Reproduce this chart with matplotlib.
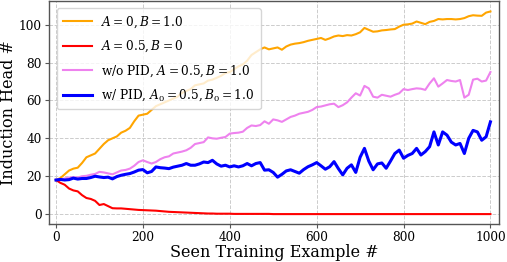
import numpy as np
import matplotlib
matplotlib.use("Agg")
import matplotlib.pyplot as plt

plt.rcParams['font.family'] = ['DejaVu Serif']
plt.rcParams['mathtext.fontset'] = 'dejavuserif'

steps = list(range(0, 1001, 10))

orange_vals = [
    18, 19, 21, 23, 24, 24.5, 27, 30, 31, 32,
    34.5, 37, 39, 40, 41, 43, 44, 45.5, 49, 52,
    52.5, 53, 55, 57, 58, 59, 60, 61, 62, 64,
    65, 66, 68, 68.5, 69, 70.5, 71, 72, 73, 74.5,
    75, 76.5, 78, 79, 81, 84, 85.5, 87, 88, 87,
    87.5, 88, 86.8, 88.5, 89.5, 90, 90.3, 90.8, 91.5, 92,
    92.5, 93, 92, 92.8, 93.8, 94.3, 94, 94.5, 94.3, 95,
    96, 98.3, 97.3, 96.3, 96.5, 97, 97.2, 97.5, 97.7, 99,
    100, 100.2, 100.6, 101.7, 101, 100.3, 101.5, 102, 103, 102.8,
    103, 103, 102.8, 103, 103.5, 104.5, 105, 104.8, 104.7, 106.4,
    107,
]

red_vals = [
    18, 16.5, 15.5, 13.5, 12.5, 12, 10, 8.5, 8, 7,
    4.8, 5.3, 4.2, 3.1, 3, 3, 2.8, 2.6, 2.4, 2.2,
    2.1, 2, 1.9, 1.8, 1.6, 1.4, 1.2, 1.1, 1, 0.9,
    0.8, 0.7, 0.6, 0.5, 0.4, 0.3, 0.3, 0.2, 0.2, 0.2,
    0.2, 0.1, 0.1, 0.1, 0.1, 0.1, 0.1, 0.1, 0.1, 0.1,
    0, 0, 0, 0, 0, 0, 0, 0, 0, 0,
    0, 0, 0, 0, 0, 0, 0, 0, 0, 0,
    0, 0, 0, 0, 0, 0, 0, 0, 0, 0,
    0, 0, 0, 0, 0, 0, 0, 0, 0, 0,
    0, 0, 0, 0, 0, 0, 0, 0, 0, 0,
    0,
]

pink_vals = [
    18, 18.3, 18.8, 19.3, 19.5, 19.3, 20, 20.2, 20.8, 21.2,
    22.3, 22, 21.5, 21, 22, 23, 23.3, 24, 25.5, 27.5,
    28.4, 27.5, 26.7, 27.5, 29, 30, 30.5, 32, 32.5, 33,
    33.7, 35, 37, 37.5, 38, 40.5, 40, 39.8, 40.3, 40.7,
    42.5, 42.8, 43, 43.5, 45.5, 46.8, 46.5, 47, 49, 47.7,
    50, 49.5, 48.7, 50, 51.3, 52, 53, 53.5, 54, 55,
    56.5, 56.8, 57.4, 58, 58.3, 56.5, 57.5, 59, 61.5, 63.8,
    62.6, 67.7, 66.4, 62, 61.5, 63, 62.5, 62, 63, 63.8,
    66, 65.5, 66, 66.4, 66.2, 65.6, 69, 71.7, 67.3, 69,
    70.8, 70.3, 70, 70.8, 61.5, 63, 71, 71.5, 70, 70.5,
    75,
]

blue_vals = [
    18, 18.3, 18, 18.2, 19, 18.5, 18.8, 18.8, 19.3, 20,
    19.6, 19.3, 19.5, 18.6, 19.8, 20.5, 21, 21.4, 22.2, 23.2,
    23.5, 21.8, 22.5, 24.9, 24.5, 24.3, 24, 24.8, 25.3, 25.8,
    26.7, 25.8, 25.8, 26.5, 27.5, 27.2, 28.4, 26.5, 25.3, 25.8,
    24.9, 25.5, 24.9, 25.5, 26.7, 25.5, 26.7, 27.2, 23.2, 23.4,
    22, 19.5, 21, 22.8, 23.4, 22.5, 21.6, 23.5, 25, 26,
    27.2, 25.5, 23.7, 25, 27.7, 24, 20.7, 24.2, 26, 22,
    30, 34.7, 28, 23.4, 26.5, 27, 24.2, 28, 32, 33.8,
    29.5, 31, 32, 34.7, 31.2, 33, 35.6, 43.4, 36.5, 43.4,
    41.7, 38, 36.5, 37.3, 32, 40, 44.2, 43.4, 39, 40.8,
    48.7,
]

labels = [
    r'$A=0, B=1.0$',
    r'$A=0.5, B=0$',
    r'w/o PID, $A=0.5, B=1.0$',
    r'w/ PID, $A_0=0.5, B_0=1.0$',
]
colors = ['orange', 'red', 'violet', 'blue']
xticks = [0, 200, 400, 600, 800, 1000]
yticks = [0, 20, 40, 60, 80, 100]

fig = plt.figure(figsize=(5.07, 2.62), dpi=100)
ax = fig.add_axes([0.0976, 0.146, 0.886, 0.850])

series = [orange_vals, red_vals, pink_vals, blue_vals]
widths = [1.5, 1.5, 1.5, 2.2]
for vals, c, lab, lw in zip(series, colors, labels, widths):
    ax.plot(steps, vals, color=c, lw=lw, label=lab)

ax.set_xlim(-15, 1019)
ax.set_ylim(-5.1, 112.5)
ax.set_xticks(xticks)
ax.set_yticks(yticks)
ax.grid(True, linestyle='--', color='#cccccc', linewidth=0.7)
for s in ax.spines.values():
    s.set_color('#555555')
    s.set_linewidth(1.0)
ax.tick_params(labelsize=8.7, colors='#555555', labelcolor='black', length=3, pad=2.5)
ax.set_xlabel('Seen Training Example #', fontsize=11.5, labelpad=0)
ax.set_ylabel('Induction Head #', fontsize=11.5, labelpad=1.5)
ax.legend(loc='upper left', fontsize=8.7, framealpha=0.8, borderaxespad=0.6,
          handlelength=2.4, labelspacing=0.75, borderpad=0.5)

fig.savefig('out.png', dpi=100)
